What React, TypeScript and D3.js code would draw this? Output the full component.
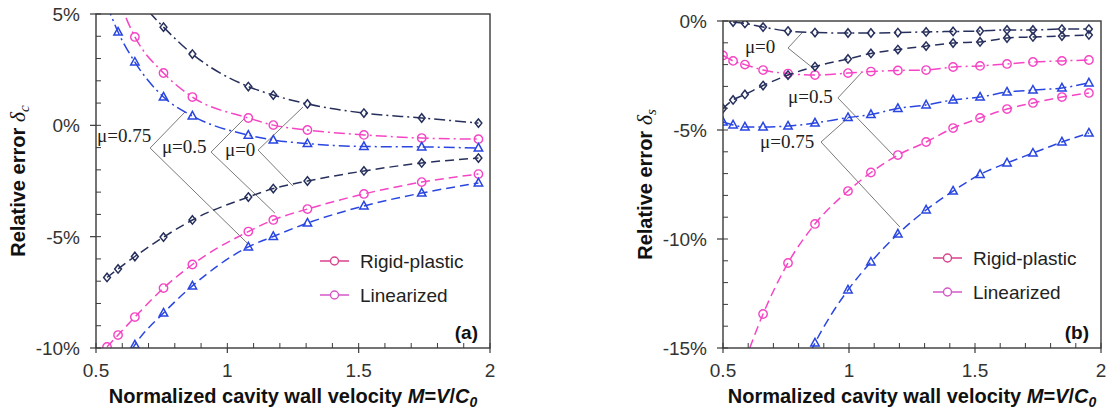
import React from 'react';
import * as d3 from 'd3';

// ---------- Panel (a) data ----------
const X_A = [0.542, 0.584, 0.648, 0.757, 0.867, 1.08, 1.175, 1.305, 1.52, 1.74, 1.956];
const A_MU0_UP = [null, null, 5.8, 4.41, 3.2, 1.74, 1.36, 0.96, 0.55, 0.33, 0.1];
const A_MU05_UP = [null, 5.7, 3.97, 2.35, 1.27, 0.33, 0.01, -0.21, -0.43, -0.57, -0.62];
const A_MU075_UP = [5.4, 4.19, 2.84, 1.27, 0.42, -0.44, -0.66, -0.82, -0.95, -0.97, -1.02];
const A_MU0_LO = [-6.83, -6.45, -5.89, -5.02, -4.25, -3.22, -2.84, -2.5, -2.05, -1.69, -1.47];
const A_MU05_LO = [-9.95, -9.42, -8.61, -7.31, -6.25, -4.77, -4.25, -3.76, -3.08, -2.55, -2.19];
const A_MU075_LO = [null, -11.2, -9.86, -8.43, -7.21, -5.46, -4.99, -4.39, -3.62, -3.04, -2.59];

// ---------- Panel (b) data ----------
const X_B = [0.5, 0.54, 0.587, 0.659, 0.758, 0.865, 0.996, 1.087, 1.194, 1.306, 1.413, 1.52, 1.627, 1.73, 1.845, 1.952];
const B_MU0_UP = [null, -0.05, -0.11, -0.28, -0.46, -0.53, -0.55, -0.55, -0.53, -0.5, -0.48, -0.46, -0.41, -0.41, -0.37, -0.37];
const B_MU0_LO = [-4.01, -3.62, -3.37, -2.96, -2.48, -2.09, -1.74, -1.49, -1.31, -1.15, -1.01, -0.96, -0.78, -0.73, -0.69, -0.64];
const B_MU05_UP = [-1.58, -1.83, -2.0, -2.25, -2.41, -2.48, -2.39, -2.32, -2.27, -2.25, -2.11, -2.06, -1.97, -1.88, -1.83, -1.79];
const B_MU05_LO = [null, null, -15.6, -13.44, -11.1, -9.31, -7.8, -6.95, -6.15, -5.55, -4.91, -4.45, -4.04, -3.76, -3.49, -3.3];
const B_MU075_UP = [-4.63, -4.77, -4.86, -4.86, -4.82, -4.68, -4.43, -4.29, -4.01, -3.85, -3.62, -3.49, -3.26, -3.17, -3.07, -2.84];
const B_MU075_LO = [null, null, null, null, -17.5, -14.77, -12.34, -11.06, -9.77, -8.67, -7.8, -7.04, -6.51, -6.06, -5.55, -5.14];

// ---------- ticks ----------
const X_TICKS = [0.5, 1, 1.5, 2];
const X_TICK_LABELS = ['0.5', '1', '1.5', '2'];
const A_Y_TICKS = [5, 0, -5, -10];
const A_Y_TICK_LABELS = ['5%', '0%', '-5%', '-10%'];
const B_Y_TICKS = [0, -5, -10, -15];
const B_Y_TICK_LABELS = ['0%', '-5%', '-10%', '-15%'];

const LEGEND_LABELS = ['Rigid-plastic', 'Linearized'];

// annotations (data coords): label position, leader polyline
const A_NOTES = [
  { text: 'μ=0.75', at: [0.504, -0.75], path: [[0.839, 0.6], [0.706, -1.02], [1.075, -5.28]] },
  { text: 'μ=0.5', at: [0.751, -1.24], path: [[1.067, 0.33], [0.938, -1.2], [1.181, -3.94]] },
  { text: 'μ=0', at: [0.991, -1.38], path: [[1.288, 0.82], [1.117, -1.11], [1.25, -2.73]] },
];
const B_NOTES = [
  { text: 'μ=0', at: [0.587, -1.47], path: [[0.817, -0.5], [0.758, -1.24], [0.857, -2.16]] },
  { text: 'μ=0.5', at: [0.758, -3.76], path: [[1.052, -2.34], [0.956, -3.53], [1.175, -6.15]] },
  { text: 'μ=0.75', at: [0.647, -5.83], path: [[0.996, -4.45], [0.889, -5.55], [1.202, -9.45]] },
];

const NAVY = '#27305c';
const PINK = '#f545c4';
const BLUE = '#2a46e0';
const DASHDOT = '11,4,2,4';
const DASHED = '9,5';

const TICK_FONT = 'Arial, "Liberation Sans", sans-serif';
const SERIF = '"Times New Roman", "Liberation Serif", serif';

function Marker({ kind, color }: { kind: string; color: string }) {
  if (kind === 'circle') return <circle r={4.2} fill="none" stroke={color} strokeWidth={1.4} />;
  if (kind === 'diamond') return <path d="M0,-4.2L3.4,0L0,4.2L-3.4,0Z" fill="none" stroke={color} strokeWidth={1.5} />;
  return <path d="M0,-4.6L4.2,3L-4.2,3Z" fill="none" stroke={color} strokeWidth={1.5} />;
}

type Series = { ys: (number | null)[]; color: string; dash: string; marker: string };

function Panel(props: {
  id: string;
  xs: number[];
  series: Series[];
  xRange: [number, number];
  yDomain: [number, number];
  yRange: [number, number];
  yTicks: number[];
  yTickLabels: string[];
  notes: { text: string; at: number[]; path: number[][] }[];
  letter: string;
  legendX: number;
  legendY: number;
  sub: string;
}) {
  const { id, xs, series, xRange, yDomain, yRange, yTicks, yTickLabels, notes, letter, legendX, legendY, sub } = props;
  const x = d3.scaleLinear().domain([0.5, 2]).range(xRange);
  const y = d3.scaleLinear().domain(yDomain).range(yRange);
  const [x0, x1] = xRange;
  const [yb, yt] = yRange;
  const line = d3
    .line<[number, number | null]>()
    .defined((d) => d[1] != null)
    .x((d) => x(d[0]))
    .y((d) => y(d[1] as number))
    .curve(d3.curveMonotoneX);
  const minorY = d3.range(Math.ceil(yDomain[0]), yDomain[1] + 0.001, 1);
  const minorX = d3.range(5, 21, 1).map((v) => v / 10);
  const noteLine = d3.line<number[]>().x((d) => x(d[0])).y((d) => y(d[1]));
  const cx = (x0 + x1) / 2;
  const cy = (yb + yt) / 2;
  return (
    <g>
      <defs>
        <clipPath id={id}>
          <rect x={x0} y={yt} width={x1 - x0} height={yb - yt} />
        </clipPath>
      </defs>
      {/* annotations */}
      {notes.map((n, i) => (
        <g key={i}>
          <path d={noteLine(n.path) as string} fill="none" stroke="#7a7a7a" strokeWidth={1} />
          <text x={x(n.at[0])} y={y(n.at[1])} fontFamily={SERIF} fontSize={19} fill="#222">
            {n.text}
          </text>
        </g>
      ))}
      {/* series */}
      <g clipPath={`url(#${id})`}>
        {series.map((s, i) => {
          const pts = xs.map((xv, j) => [xv, s.ys[j]] as [number, number | null]);
          return (
            <g key={i}>
              <path d={line(pts) as string} fill="none" stroke={s.color} strokeWidth={1.5} strokeDasharray={s.dash} />
              {pts
                .filter((p) => p[1] != null)
                .map((p, j) => (
                  <g key={j} transform={`translate(${x(p[0])},${y(p[1] as number)})`}>
                    <Marker kind={s.marker} color={s.color} />
                  </g>
                ))}
            </g>
          );
        })}
      </g>
      {/* frame */}
      <rect x={x0} y={yt} width={x1 - x0} height={yb - yt} fill="none" stroke="#3a3a3a" strokeWidth={1.4} />
      {/* minor ticks */}
      {minorY.map((v) => (
        <line key={'my' + v} x1={x0} x2={x0 + 5} y1={y(v)} y2={y(v)} stroke="#3a3a3a" strokeWidth={1} />
      ))}
      {minorX.map((v) => (
        <line key={'mx' + v} x1={x(v)} x2={x(v)} y1={yb} y2={yb - 5} stroke="#3a3a3a" strokeWidth={1} />
      ))}
      {/* major ticks + labels */}
      {yTicks.map((v, i) => (
        <g key={'y' + v}>
          <line x1={x0 - 6} x2={x0} y1={y(v)} y2={y(v)} stroke="#3a3a3a" strokeWidth={1.2} />
          <text x={x0 - 16} y={y(v) + 7} textAnchor="end" fontFamily={TICK_FONT} fontSize={19} fill="#333">
            {yTickLabels[i]}
          </text>
        </g>
      ))}
      {X_TICKS.map((v, i) => (
        <g key={'x' + v}>
          <line x1={x(v)} x2={x(v)} y1={yb} y2={yb + 5} stroke="#3a3a3a" strokeWidth={1.2} />
          <text x={x(v)} y={377} textAnchor="middle" fontFamily={TICK_FONT} fontSize={19} fill="#333">
            {X_TICK_LABELS[i]}
          </text>
        </g>
      ))}
      {/* axis titles */}
      <text x={cx} y={403} textAnchor="middle" fontFamily={TICK_FONT} fontSize={20} fontWeight="bold" fill="#111">
        Normalized cavity wall velocity{' '}
        <tspan fontStyle="italic">M</tspan>=<tspan fontStyle="italic">V</tspan>/<tspan fontStyle="italic">C</tspan>
        <tspan fontStyle="italic" fontSize={14} dy={4}>0</tspan>
      </text>
      <text
        transform={`translate(${x0 - 71},${cy}) rotate(-90)`}
        textAnchor="middle"
        fontFamily={TICK_FONT}
        fontSize={20}
        fontWeight="bold"
        fill="#111"
      >
        Relative error{' '}
        <tspan fontFamily={SERIF} fontStyle="italic" fontWeight="normal" fontSize={22}>δ</tspan>
        <tspan fontFamily={SERIF} fontStyle="italic" fontWeight="normal" fontSize={15} dy={4}>{sub}</tspan>
      </text>
      {/* legend */}
      {LEGEND_LABELS.map((l, i) => {
        const ly = legendY + i * 34;
        const col = i === 0 ? '#d8428c' : '#d558c8';
        return (
          <g key={l}>
            <line x1={legendX} x2={legendX + 29} y1={ly} y2={ly} stroke={col} strokeWidth={1.5} />
            <circle cx={legendX + 14.5} cy={ly} r={4} fill="#fff" stroke={col} strokeWidth={1.4} />
            <text x={legendX + 40} y={ly + 7} fontFamily={TICK_FONT} fontSize={19} fill="#222">
              {l}
            </text>
          </g>
        );
      })}
      <text x={x1 - 12} y={yb - 9} textAnchor="end" fontFamily={TICK_FONT} fontSize={19} fontWeight="bold" fill="#111">
        {letter}
      </text>
    </g>
  );
}

export default function App() {
  const seriesA: Series[] = [
    { ys: A_MU0_UP, color: NAVY, dash: DASHDOT, marker: 'diamond' },
    { ys: A_MU05_UP, color: PINK, dash: DASHDOT, marker: 'circle' },
    { ys: A_MU075_UP, color: BLUE, dash: DASHDOT, marker: 'triangle' },
    { ys: A_MU0_LO, color: NAVY, dash: DASHED, marker: 'diamond' },
    { ys: A_MU05_LO, color: PINK, dash: DASHED, marker: 'circle' },
    { ys: A_MU075_LO, color: BLUE, dash: DASHED, marker: 'triangle' },
  ];
  const seriesB: Series[] = [
    { ys: B_MU0_UP, color: NAVY, dash: DASHDOT, marker: 'diamond' },
    { ys: B_MU05_UP, color: PINK, dash: DASHDOT, marker: 'circle' },
    { ys: B_MU075_UP, color: BLUE, dash: DASHDOT, marker: 'triangle' },
    { ys: B_MU0_LO, color: NAVY, dash: DASHED, marker: 'diamond' },
    { ys: B_MU05_LO, color: PINK, dash: DASHED, marker: 'circle' },
    { ys: B_MU075_LO, color: BLUE, dash: DASHED, marker: 'triangle' },
  ];
  return (
    <svg
      width={1112}
      height={417}
      viewBox="0 0 1112 417"
      style={{ position: 'absolute', left: 0, top: 0, background: '#fff' }}
    >
      <rect width={1112} height={417} fill="#fff" />
      <Panel
        id="clipA"
        xs={X_A}
        series={seriesA}
        xRange={[96, 490]}
        yDomain={[-10, 5]}
        yRange={[348, 14]}
        yTicks={A_Y_TICKS}
        yTickLabels={A_Y_TICK_LABELS}
        notes={A_NOTES}
        letter="(a)"
        legendX={320}
        legendY={261}
        sub="c"
      />
      <Panel
        id="clipB"
        xs={X_B}
        series={seriesB}
        xRange={[723, 1101]}
        yDomain={[-15, 0]}
        yRange={[348, 21]}
        yTicks={B_Y_TICKS}
        yTickLabels={B_Y_TICK_LABELS}
        notes={B_NOTES}
        letter="(b)"
        legendX={933}
        legendY={258}
        sub="s"
      />
    </svg>
  );
}
